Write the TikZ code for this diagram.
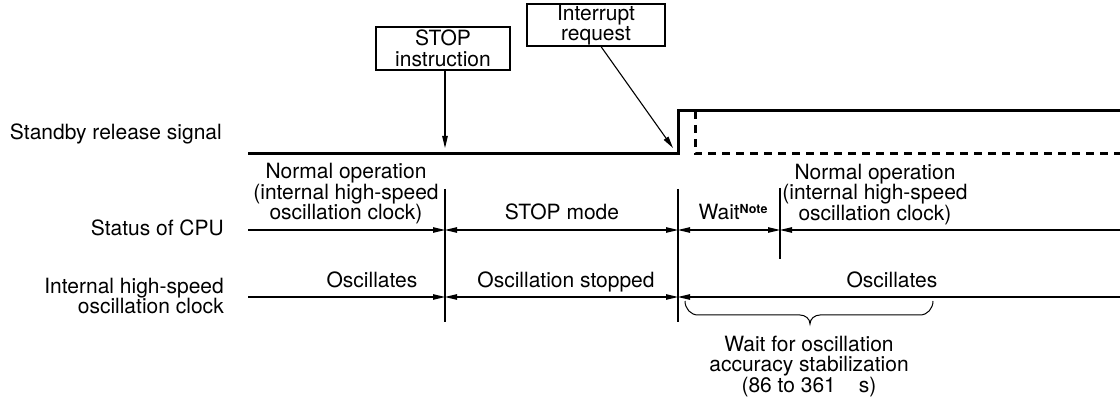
\documentclass[tikz,border=0pt]{standalone}
\usepackage{fontspec}
\setmainfont{TeX Gyre Heros}
\usetikzlibrary{arrows.meta}
\begin{document}
\begin{tikzpicture}[x=1pt,y=-1pt,
  txt/.style={font=\fontsize{21}{20.5}\selectfont, inner sep=0pt, align=center},
  lbl/.style={txt, anchor=base east, align=right},
  boxn/.style={txt, draw, line width=1.1pt},
  ln/.style={line width=1.1pt},
  sig/.style={line width=3pt},
  dsig/.style={line width=3pt, dash pattern=on 8pt off 6pt},
  tip/.style={-{Triangle[length=12pt,width=5.5pt]}},
  tips/.style={{Triangle[length=12pt,width=5.5pt]}-{Triangle[length=12pt,width=5.5pt]}},
  rtip/.style={{Triangle[length=12pt,width=5.5pt]}-},
  bar/.style={line width=1.1pt}]
\useasboundingbox (0,0) rectangle (1120,398);
% left labels
\node[lbl] (l1) at (222,139.5) {Standby release signal};
\node[lbl] (l2) at (224,236) {Status of CPU};
\node[lbl] (l3) at (224,314) {Internal high-speed\\oscillation clock};
% boxes
\node[boxn, minimum width=134pt, minimum height=43pt] (stop) at (443,48.5) {STOP\\instruction};
\node[boxn, minimum width=138pt, minimum height=42pt] (intr) at (596,25) {Interrupt\\request};
% signal
\coordinate (g0) at (248,154);
\coordinate (g1) at (678,154);
\coordinate (g2) at (678,111);
\coordinate (g3) at (1120,111);
\coordinate (d0) at (695,111);
\coordinate (d1) at (695,154);
\coordinate (d2) at (1120,154);
\draw[sig] (g0) -- (g1) -- (g2) -- (g3);
\draw[dsig] (d0) -- (d1) -- (d2);
\coordinate (stoptip) at (445,148);
\coordinate (intrtip) at (673,148);
\coordinate (istart) at ([xshift=5pt]intr.south);
\draw[ln,tip] (stop.south -| stoptip) -- (stoptip);
\draw[ln,tip] (istart) -- (intrtip);
% status line
\coordinate (s0) at (248,230);
\coordinate (s1) at (445,230);
\coordinate (s2) at (678,230);
\coordinate (s3) at (780,230);
\coordinate (s4) at (1120,230);
\draw[ln,tip] (s0) -- (s1);
\draw[ln,tips] (s1) -- (s2);
\draw[ln,tips] (s2) -- (s3);
\draw[ln,rtip] (s3) -- (s4);
% clock line
\coordinate (c0) at (248,297);
\coordinate (c1) at (445,297);
\coordinate (c2) at (678,297);
\coordinate (c3) at (1120,297);
\draw[ln,tip] (c0) -- (c1);
\draw[ln,tips] (c1) -- (c2);
\draw[ln,rtip] (c2) -- (c3);
% verticals
\coordinate (v1t) at (445,189);
\coordinate (v1b) at (445,322);
\coordinate (v2t) at (678,189);
\coordinate (v2b) at (678,322);
\coordinate (v3t) at (780,188);
\coordinate (v3b) at (780,259);
\draw[bar] (v1t) -- (v1b);
\draw[bar] (v2t) -- (v2b);
\draw[bar] (v3t) -- (v3b);
% status texts
\node[txt, anchor=base] (n1) at (346,220) {Normal operation\\(internal high-speed\\oscillation clock)};
\node[txt, anchor=base] (stm) at (562,220) {STOP mode};
\node[txt, anchor=base] (wt) at (733,220) {Wait\raisebox{6pt}{\fontsize{12.5}{12.5}\selectfont\bfseries Note}};
\node[txt, anchor=base] (n2) at (875,220.5) {Normal operation\\(internal high-speed\\oscillation clock)};
% clock texts
\node[txt, anchor=base] (o1) at (372,288) {Oscillates};
\node[txt, anchor=base] (o2) at (566,288) {Oscillation stopped};
\node[txt, anchor=base] (o3) at (892,288) {Oscillates};
% brace
\coordinate (b0) at (685,301);
\coordinate (bm) at (810,324);
\coordinate (b1) at (933,301);
\draw[line width=1pt] (b0) to[out=-90,in=180] (698,315) -- (800,315) to[out=0,in=90] (bm)
  to[out=90,in=180] (820,315) -- (920,315) to[out=0,in=-90] (b1);
\node[txt, anchor=base] (wn) at (809,392) {Wait for oscillation\\accuracy stabilization\\(86 to 361\hspace{1.1em}s)};
\end{tikzpicture}
\end{document}
